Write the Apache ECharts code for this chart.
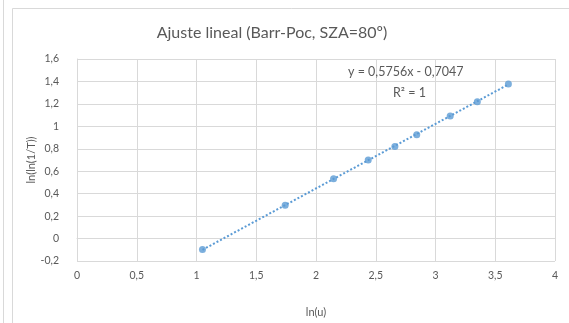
<!DOCTYPE html>
<html>
<head>
<meta charset="utf-8">
<script src="https://cdn.jsdelivr.net/npm/echarts@6/dist/echarts.min.js"></script>
<style>
  html, body { margin: 0; padding: 0; background: #ffffff; }
  #chart { width: 569px; height: 323px; }
</style>
</head>
<body>
<div id="chart"></div>
<script>
// Measured points: ln(u) against ln(ln(1/T))
const lnU = [1.050, 1.742, 2.147, 2.437, 2.660, 2.843, 3.123, 3.350, 3.610];
const lnLnInvT = [-0.097, 0.297, 0.534, 0.701, 0.820, 0.926, 1.091, 1.219, 1.377];

// Linear fit reported for the series
const fitSlope = 0.5756;
const fitIntercept = -0.7047;
const fitR2 = 1;

const titleText = 'Ajuste lineal (Barr-Poc, SZA=80º)';
const xAxisName = 'ln(u)';
const yAxisName = 'ln(ln(1/T))';

const FONT = 'Lato, "Open Sans", sans-serif';
const TEXT_COLOR = '#595959';
const GRID_COLOR = '#d9d9d9';
const SERIES_COLOR = '#5b9bd5';

const comma = (v) => String(v).replace('.', ',');
const fmtCoef = (v) => v.toFixed(4).replace('.', ',');

const points = lnU.map((x, i) => [x, lnLnInvT[i]]);
const xMin = Math.min(...lnU);
const xMax = Math.max(...lnU);
const trend = [xMin, xMax].map((x) => [x, fitSlope * x + fitIntercept]);

const equation = 'y = ' + fmtCoef(fitSlope) + 'x ' + (fitIntercept < 0 ? '- ' : '+ ') + fmtCoef(Math.abs(fitIntercept));

const chart = echarts.init(document.getElementById('chart'), null, { renderer: 'canvas' });

chart.setOption({
  animation: false,
  backgroundColor: '#ffffff',
  textStyle: { fontFamily: FONT },
  title: {
    text: titleText,
    left: 267,
    top: 20,
    textAlign: 'center',
    textStyle: { fontFamily: FONT, fontSize: 16, fontWeight: 'normal', color: TEXT_COLOR }
  },
  grid: { left: 77, right: 14, top: 59, height: 231, containLabel: false },
  xAxis: {
    type: 'value',
    min: 0,
    max: 4,
    interval: 0.5,
    name: xAxisName,
    nameLocation: 'middle',
    nameGap: 46,
    nameMoveOverlap: false,
    nameTextStyle: { fontFamily: FONT, fontSize: 11, color: TEXT_COLOR },
    axisLine: { onZero: true, lineStyle: { color: GRID_COLOR, width: 1 } },
    axisTick: { show: false },
    axisLabel: { formatter: comma, fontFamily: FONT, fontSize: 10.5, color: TEXT_COLOR, margin: 9 },
    splitLine: { show: true, lineStyle: { color: GRID_COLOR, width: 1 } }
  },
  yAxis: {
    type: 'value',
    min: -0.2,
    max: 1.6,
    interval: 0.2,
    name: yAxisName,
    nameLocation: 'middle',
    nameGap: 40,
    nameMoveOverlap: false,
    nameTextStyle: { fontFamily: FONT, fontSize: 11, color: TEXT_COLOR },
    axisLine: { show: true, lineStyle: { color: GRID_COLOR, width: 1 } },
    axisTick: { show: false },
    axisLabel: {
      formatter: (v) => comma(Math.round(v * 10) / 10),
      fontFamily: FONT, fontSize: 10.5, color: TEXT_COLOR, margin: 18
    },
    splitLine: { show: true, lineStyle: { color: GRID_COLOR, width: 1 } }
  },
  graphic: [
    { type: 'line', shape: { x1: 3.5, y1: 0, x2: 3.5, y2: 323 }, style: { stroke: GRID_COLOR, lineWidth: 1 }, silent: true },
    { type: 'rect', shape: { x: 12.5, y: 8.5, width: 600, height: 400 }, style: { fill: null, stroke: GRID_COLOR, lineWidth: 1 }, silent: true },
    {
      type: 'text', left: 348, top: 65, z: 100,
      style: { text: equation, fontFamily: FONT, fontSize: 12.5, fill: TEXT_COLOR }
    },
    {
      type: 'text', left: 393, top: 86, z: 100,
      style: { text: 'R² = ' + fitR2, fontFamily: FONT, fontSize: 12.5, fill: TEXT_COLOR }
    }
  ],
  series: [
    {
      name: 'Lineal',
      type: 'line',
      data: trend,
      symbol: 'none',
      z: 2,
      lineStyle: { color: SERIES_COLOR, width: 2, type: [2, 2] }
    },
    {
      name: yAxisName,
      type: 'scatter',
      data: points,
      symbol: 'circle',
      symbolSize: 7,
      z: 3,
      itemStyle: { color: SERIES_COLOR }
    }
  ]
});
</script>
</body>
</html>
